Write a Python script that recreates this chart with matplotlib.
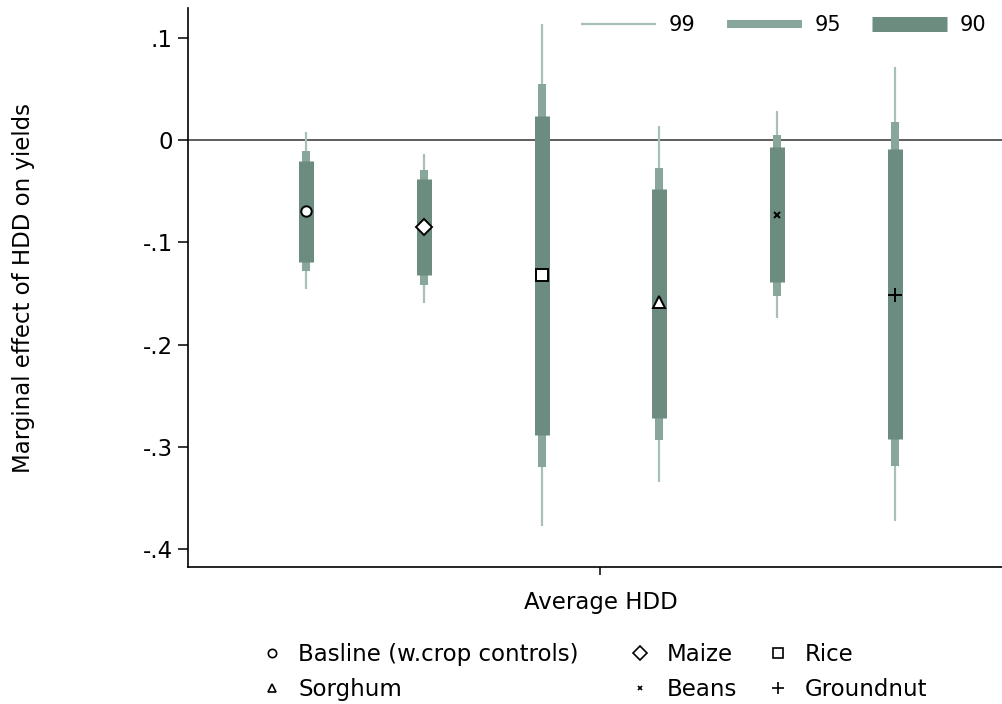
import numpy as np
import matplotlib
matplotlib.use('Agg')
import matplotlib.pyplot as plt
from matplotlib.lines import Line2D

# Coefficients and confidence intervals
crops = ["Basline (w.crop controls)", "Maize", "Rice", "Sorghum", "Beans", "Groundnut"]
estimate = [-0.069, -0.085, -0.132, -0.158, -0.073, -0.151]
ci99_lo = [-0.146, -0.159, -0.377, -0.334, -0.174, -0.373]
ci99_hi = [0.008, -0.013, 0.114, 0.014, 0.029, 0.072]
ci95_lo = [-0.128, -0.142, -0.320, -0.293, -0.152, -0.319]
ci95_hi = [-0.011, -0.029, 0.055, -0.027, 0.005, 0.018]
ci90_lo = [-0.119, -0.132, -0.288, -0.272, -0.139, -0.292]
ci90_hi = [-0.020, -0.038, 0.024, -0.048, -0.007, -0.009]

y_ticks = [0.1, 0.0, -0.1, -0.2, -0.3, -0.4]
y_tick_labels = [".1", "0", "-.1", "-.2", "-.3", "-.4"]
ci_levels = ["99", "95", "90"]

# Styling
c99 = '#a8c1b7'
c95 = '#88a699'
c90 = '#6b8c7e'
markers = ['o', 'D', 's', '^', 'x', '+']
msizes = [7.5, 8.5, 9, 8, 4, 10]
fs = 16.5

plt.rcParams['font.family'] = ['DejaVu Sans']

fig = plt.figure(figsize=(10.02, 7.04), dpi=100)
ax = fig.add_axes([0.1876, 0.1946, 0.8234, 0.794])

x = np.arange(len(crops)) - (len(crops) - 1) / 2

ax.axhline(0, color='#333333', linewidth=1.1, zorder=1)
ax.vlines(x, ci99_lo, ci99_hi, color=c99, linewidth=1.6, capstyle='butt', zorder=2)
ax.vlines(x, ci95_lo, ci95_hi, color=c95, linewidth=5.8, capstyle='butt', zorder=3)
ax.vlines(x, ci90_lo, ci90_hi, color=c90, linewidth=10.8, capstyle='butt', zorder=4)

handles = []
for xi, est, m, ms, name in zip(x, estimate, markers, msizes, crops):
    face = 'white' if m not in ('x', '+') else 'black'
    ax.plot(xi, est, marker=m, markersize=ms, markerfacecolor=face,
            markeredgecolor='black', markeredgewidth=1.4, linestyle='none', zorder=5)
    handles.append(Line2D([], [], marker=m, markersize=ms * 0.8, markerfacecolor=face,
                          markeredgecolor='black', markeredgewidth=1.2, linestyle='none',
                          label=name))

ax.set_xlim(-3.5, 3.5)
ax.set_ylim(-0.4176, 0.1294)
ax.set_yticks(y_ticks)
ax.set_yticklabels(y_tick_labels)
ax.set_xticks([0])
ax.set_xticklabels([""])
ax.tick_params(axis='y', length=7, width=1.1, pad=4, labelsize=fs, colors='black')
ax.tick_params(axis='x', length=6, width=1.1)
ax.set_xlabel("Average HDD", fontsize=fs, labelpad=8)
ax.set_ylabel("Marginal effect of HDD on yields", fontsize=fs)
ax.yaxis.set_label_coords(-0.186, 0.5)

ax.spines['top'].set_visible(False)
ax.spines['right'].set_visible(False)
ax.spines['left'].set_linewidth(1.2)
ax.spines['bottom'].set_linewidth(1.2)

# CI legend (top right)
ci_handles = [Line2D([], [], color=c99, linewidth=1.6, solid_capstyle='butt'),
              Line2D([], [], color=c95, linewidth=5.8, solid_capstyle='butt'),
              Line2D([], [], color=c90, linewidth=10.8, solid_capstyle='butt')]
fig.legend(ci_handles, ci_levels, loc='center right', bbox_to_anchor=(0.997, 0.9645),
           ncol=3, frameon=False, fontsize=15, handlelength=3.6, handletextpad=0.6,
           columnspacing=1.5, borderaxespad=0.2)

# Marker legend (bottom): one small legend per column, two rows each
col_left = [0.2612, 0.6285, 0.7662]
for col, left in enumerate(col_left):
    idx = [col, col + 3]
    leg = fig.legend([handles[i] for i in idx], [crops[i] for i in idx],
                     loc='center left', bbox_to_anchor=(left, 0.0455), ncol=1,
                     frameon=False, fontsize=fs, handlelength=0.9, handletextpad=0.7,
                     labelspacing=0.55, borderaxespad=0, borderpad=0)

fig.savefig('out.png', dpi=100, facecolor='white')
plt.close(fig)
